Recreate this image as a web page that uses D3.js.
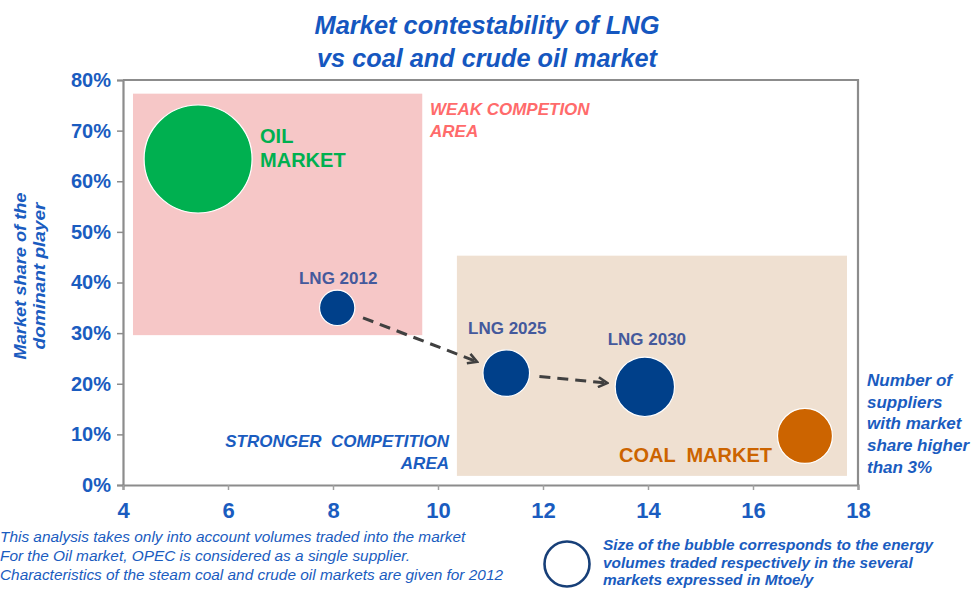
<!DOCTYPE html>
<html>
<head>
<meta charset="utf-8">
<script src="https://cdn.jsdelivr.net/npm/d3@7"></script>
<style>
  html, body { margin: 0; padding: 0; background: #fff; }
  svg { display: block; font-family: "Liberation Sans", Arial, sans-serif; }
  text { white-space: pre; }
</style>
</head>
<body>
<svg id="chart" width="975" height="589"></svg>
<script>
// ---------------- DATA ----------------
const xTicks = [4, 6, 8, 10, 12, 14, 16, 18];
const yTicks = [0, 0.1, 0.2, 0.3, 0.4, 0.5, 0.6, 0.7, 0.8];

// bubbles: number of suppliers (>3% share), share of dominant player, traded volume (Mtoe/y)
const markets   = ["OIL MARKET", "LNG 2012", "LNG 2025", "LNG 2030", "COAL MARKET"];
const suppliers = [5.43, 8.08, 11.3, 13.94, 16.99];
const share     = [0.644, 0.35, 0.221, 0.194, 0.097];
const volume    = [2200, 236, 410, 665, 570];

// shaded competition areas (data coordinates)
const areaNames = ["WEAK COMPETION AREA", "STRONGER COMPETITION AREA"];
const areaX0 = [4.19, 10.36];
const areaX1 = [9.70, 17.79];
const areaY0 = [0.296, 0.018];
const areaY1 = [0.773, 0.453];

// LNG trajectory arrows (index pairs into markets)
const arrowFrom = [1, 2];
const arrowTo   = [2, 3];

const titleLines = ["Market contestability of LNG", "vs coal and crude oil market"];
const yTitleLines = ["Market share of the", "dominant player"];
const notes = [
  "This analysis takes only into account volumes traded into the market",
  "For the Oil market, OPEC is considered as a single supplier.",
  "Characteristics of the steam coal and crude oil markets are given for 2012"
];
const legendLines = [
  "Size of the bubble corresponds to the energy",
  "volumes traded respectively in the several",
  "markets expressed in Mtoe/y"
];
const xTitleLines = ["Number of", "suppliers", "with market", "share higher", "than 3%"];

// ---------------- DRAW ----------------
const BLUE = "#1a5cc0";
const svg = d3.select("#chart");
const x = d3.scaleLinear().domain([4, 18]).range([123, 858]);
const y = d3.scaleLinear().domain([0, 0.8]).range([485, 80]);
const r = d3.scaleSqrt().domain([0, d3.max(volume)]).range([0, 54]);

// title
const titleLen = [345, 340];
svg.append("g").selectAll("text").data(titleLines).join("text")
  .attr("x", 487).attr("y", (d, i) => 34 + i * 33)
  .attr("text-anchor", "middle")
  .attr("font-size", 26).attr("font-weight", "bold").attr("font-style", "italic")
  .attr("textLength", (d, i) => titleLen[i]).attr("lengthAdjust", "spacingAndGlyphs")
  .attr("fill", "#1557c0")
  .text(d => d);

// areas
const areaFill = ["#f6c7c7", "#efe0d1"];
svg.append("g").selectAll("rect").data(areaNames).join("rect")
  .attr("x", (d, i) => x(areaX0[i]))
  .attr("y", (d, i) => y(areaY1[i]))
  .attr("width", (d, i) => x(areaX1[i]) - x(areaX0[i]))
  .attr("height", (d, i) => y(areaY0[i]) - y(areaY1[i]))
  .attr("fill", (d, i) => areaFill[i]);

// frame (top and right borders)
svg.append("path")
  .attr("d", `M${x(4)},${y(0.8)}H${x(18)}V${y(0)}`)
  .attr("fill", "none").attr("stroke", "#8c8c8c").attr("stroke-width", 2.2);

// y axis
const yAxis = svg.append("g").attr("transform", `translate(${x(4)},0)`)
  .call(d3.axisLeft(y).tickValues(yTicks).tickFormat(d3.format(".0%")).tickSize(6).tickPadding(6));
yAxis.select(".domain").attr("stroke", "#8c8c8c").attr("stroke-width", 2.2);
yAxis.selectAll(".tick line").attr("stroke", "#8c8c8c").attr("stroke-width", 1.5);
yAxis.selectAll(".tick text").attr("fill", BLUE).attr("font-size", 20).attr("font-weight", "bold")
  .attr("font-family", "Liberation Sans, Arial, sans-serif");

// x axis
const xAxis = svg.append("g").attr("transform", `translate(0,${y(0)})`)
  .call(d3.axisBottom(x).tickValues(xTicks).tickFormat(d3.format("d")).tickSize(5).tickPadding(12));
xAxis.select(".domain").attr("stroke", "#8c8c8c").attr("stroke-width", 2.2);
xAxis.selectAll(".tick line").attr("stroke", "#a0a0a0").attr("stroke-width", 1.5);
xAxis.selectAll(".tick text").attr("fill", BLUE).attr("font-size", 22).attr("font-weight", "bold")
  .attr("font-family", "Liberation Sans, Arial, sans-serif");

// y axis title
const yTitleLen = [167, 147];
const yt = svg.append("g").attr("transform", "translate(0,276) rotate(-90)");
yt.selectAll("text").data(yTitleLines).join("text")
  .attr("x", 0).attr("y", (d, i) => 26 + i * 19)
  .attr("text-anchor", "middle")
  .attr("font-size", 16).attr("font-weight", "bold").attr("font-style", "italic")
  .attr("textLength", (d, i) => yTitleLen[i]).attr("lengthAdjust", "spacingAndGlyphs")
  .attr("fill", BLUE)
  .text(d => d);

// arrows
svg.append("defs").append("marker")
  .attr("id", "chev").attr("viewBox", "0 0 12 12").attr("refX", 10).attr("refY", 6)
  .attr("markerWidth", 12).attr("markerHeight", 12).attr("markerUnits", "userSpaceOnUse")
  .attr("orient", "auto")
  .append("path").attr("d", "M1,1 L10,6 L1,11")
  .attr("fill", "none").attr("stroke", "#404040").attr("stroke-width", 2.6)
  .attr("stroke-linejoin", "miter");

svg.append("g").selectAll("line").data(arrowFrom).join("line")
  .each(function (d, i) {
    const a = d, b = arrowTo[i];
    const x1 = x(suppliers[a]), y1 = y(share[a]);
    const x2 = x(suppliers[b]), y2 = y(share[b]);
    const len = Math.hypot(x2 - x1, y2 - y1);
    const ux = (x2 - x1) / len, uy = (y2 - y1) / len;
    const s = r(volume[a]) + 10, e = r(volume[b]) + 8;
    d3.select(this)
      .attr("x1", x1 + ux * s).attr("y1", y1 + uy * s)
      .attr("x2", x2 - ux * e).attr("y2", y2 - uy * e);
  })
  .attr("stroke", "#404040").attr("stroke-width", 3)
  .attr("stroke-dasharray", "11,7")
  .attr("marker-end", "url(#chev)");

// bubbles
const bubbleFill = ["#00b050", "#00408a", "#00408a", "#00408a", "#cc6400"];
svg.append("g").selectAll("circle").data(markets).join("circle")
  .attr("cx", (d, i) => x(suppliers[i]))
  .attr("cy", (d, i) => y(share[i]))
  .attr("r", (d, i) => r(volume[i]))
  .attr("fill", (d, i) => bubbleFill[i])
  .attr("stroke", "#ffffff").attr("stroke-width", 1.2);

// bubble labels (offsets from bubble centres)
const lbl = svg.append("g").attr("font-weight", "bold");
function bubbleLabel(i, lines, dx, dy, anchor, size, color, lh) {
  const cx = x(suppliers[i]), cy = y(share[i]);
  lbl.append("g").selectAll("text").data(lines).join("text")
    .attr("x", cx + dx).attr("y", (d, k) => cy + dy + k * lh)
    .attr("text-anchor", anchor).attr("font-size", size).attr("fill", color)
    .text(d => d);
}
bubbleLabel(0, ["OIL", "MARKET"], 62, -16, "start", 20, "#00b050", 24);
bubbleLabel(1, ["LNG 2012"], 1, -24, "middle", 17, "#44599c", 0);
bubbleLabel(2, ["LNG 2025"], 1, -39, "middle", 17, "#44599c", 0);
bubbleLabel(3, ["LNG 2030"], 2, -42, "middle", 17, "#44599c", 0);
bubbleLabel(4, ["COAL  MARKET"], -33, 26, "end", 20, "#cc6400", 0);

// area labels
svg.append("g").selectAll("text").data(["WEAK COMPETION", "AREA"]).join("text")
  .attr("x", 430).attr("y", (d, i) => 115 + i * 22)
  .attr("font-size", 17).attr("font-weight", "bold").attr("font-style", "italic")
  .attr("fill", "#ff6b6b").text(d => d);
svg.append("g").selectAll("text").data(["STRONGER  COMPETITION", "AREA"]).join("text")
  .attr("x", 449).attr("y", (d, i) => 447 + i * 22)
  .attr("text-anchor", "end")
  .attr("font-size", 17).attr("font-weight", "bold").attr("font-style", "italic")
  .attr("fill", BLUE).text(d => d);

// x-axis title on right
svg.append("g").selectAll("text").data(xTitleLines).join("text")
  .attr("x", 867).attr("y", (d, i) => 386 + i * 21.7)
  .attr("font-size", 17).attr("font-weight", "bold").attr("font-style", "italic")
  .attr("fill", BLUE).text(d => d);

// notes
svg.append("g").selectAll("text").data(notes).join("text")
  .attr("x", 0).attr("y", (d, i) => 542 + i * 19)
  .attr("font-size", 15.4).attr("font-style", "italic")
  .attr("fill", BLUE).text(d => d);

// legend
svg.append("circle").attr("cx", 567).attr("cy", 564).attr("r", 22.5)
  .attr("fill", "none").attr("stroke", "#173f78").attr("stroke-width", 2.6);
svg.append("g").selectAll("text").data(legendLines).join("text")
  .attr("x", 603).attr("y", (d, i) => 550 + i * 17.5)
  .attr("font-size", 15.4).attr("font-weight", "bold").attr("font-style", "italic")
  .attr("fill", BLUE).text(d => d);
</script>
</body>
</html>
